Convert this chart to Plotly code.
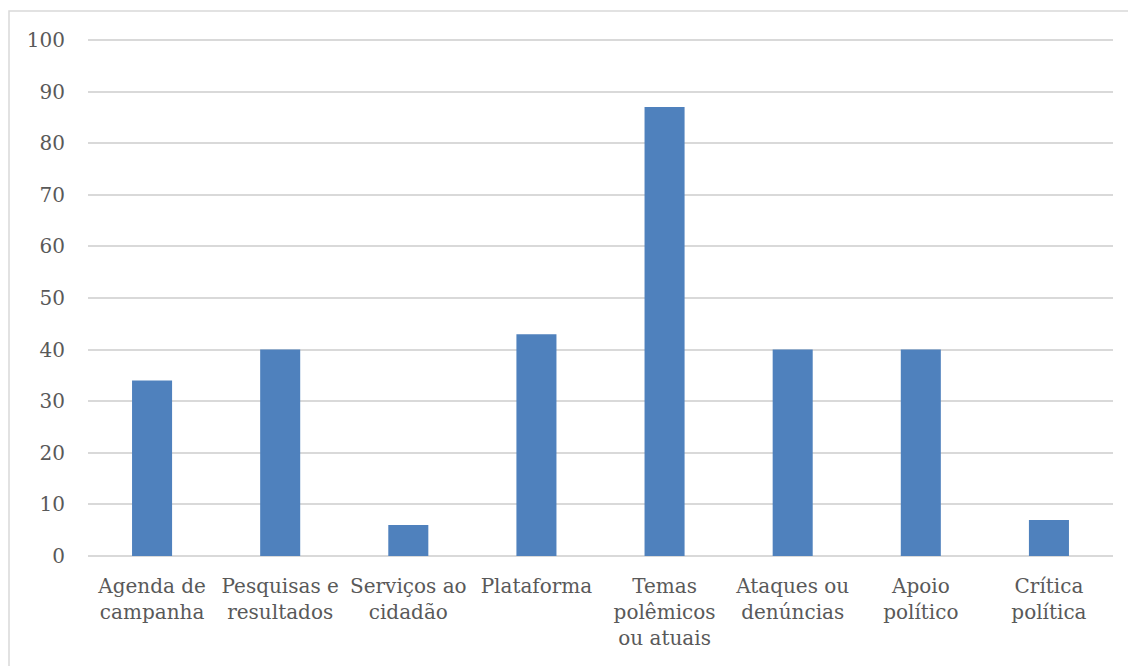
import plotly.graph_objects as go

categories = [
    "Agenda de<br>campanha",
    "Pesquisas e<br>resultados",
    "Serviços ao<br>cidadão",
    "Plataforma",
    "Temas<br>polêmicos<br>ou atuais",
    "Ataques ou<br>denúncias",
    "Apoio<br>político",
    "Crítica<br>política",
]
values = [34, 40, 6, 43, 87, 40, 40, 7]
y_ticks = [0, 10, 20, 30, 40, 50, 60, 70, 80, 90, 100]

W, H = 1128, 666
L, R, T, B = 88, 15, 39, 110

fig = go.Figure(
    go.Bar(
        x=categories,
        y=values,
        marker=dict(color="#4F81BD", line=dict(width=0)),
    )
)

pw = W - L - R
ph = H - T - B
bx0 = (9 - L) / pw
by1 = (H - B - 11) / ph

fig.update_layout(
    width=W,
    height=H,
    margin=dict(l=L, r=R, t=T, b=B, pad=0, autoexpand=False),
    paper_bgcolor="white",
    plot_bgcolor="white",
    bargap=0.6875,
    showlegend=False,
    font=dict(family="DejaVu Serif", size=20, color="#595959"),
    xaxis=dict(
        showgrid=False,
        showline=False,
        automargin=False,
        ticks="outside",
        ticklen=12,
        tickcolor="rgba(0,0,0,0)",
        tickfont=dict(family="DejaVu Serif", size=20, color="#595959"),
        tickangle=0,
    ),
    yaxis=dict(
        range=[0, 100.2],
        tickvals=y_ticks,
        showgrid=True,
        gridcolor="#d9d9d9",
        gridwidth=1.5,
        zeroline=True,
        zerolinecolor="#d9d9d9",
        zerolinewidth=2,
        showline=False,
        automargin=False,
        ticks="outside",
        ticklen=18,
        tickcolor="rgba(0,0,0,0)",
        tickfont=dict(family="DejaVu Serif", size=20, color="#595959"),
        fixedrange=True,
    ),
    shapes=[
        dict(
            type="rect",
            xref="paper",
            yref="paper",
            x0=bx0,
            x1=1.1,
            y0=-0.5,
            y1=by1,
            line=dict(color="#d9d9d9", width=1.5),
            fillcolor="rgba(0,0,0,0)",
            layer="below",
        )
    ],
)

fig.write_html("out.html")
